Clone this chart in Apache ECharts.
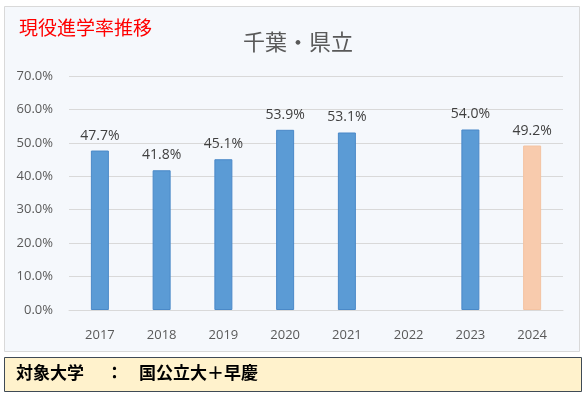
<!DOCTYPE html>
<html>
<head>
<meta charset="utf-8">
<script src="https://cdn.jsdelivr.net/npm/echarts@6/dist/echarts.min.js"></script>
<style>
html,body{margin:0;padding:0;background:#ffffff;}
#chart{width:586px;height:396px;}
</style>
</head>
<body>
<div id="chart"></div>
<script>
var years = ['2017','2018','2019','2020','2021','2022','2023','2024'];
var rates = [47.7, 41.8, 45.1, 53.9, 53.1, null, 54.0, 49.2];
var highlightYear = '2024';
var yTicks = [0, 10, 20, 30, 40, 50, 60, 70];
var chartTitle = '千葉・県立';
var cornerTitle = '現役進学率推移';
var footKey = '対象大学';
var footSep = '：';
var footValue = '国公立大＋早慶';

var blue = '#5b9bd5', orange = '#f8cbad';
var barData = rates.map(function (v, i) {
  return {
    value: v,
    itemStyle: years[i] === highlightYear
      ? { color: orange, borderColor: '#f4c3a2', borderWidth: 1 }
      : { color: blue, borderColor: '#4a89c8', borderWidth: 1 }
  };
});

var footFont = 'bold 17px "Noto Sans CJK JP"';
var chart = echarts.init(document.getElementById('chart'), null, { renderer: 'canvas' });
chart.setOption({
  animation: false,
  backgroundColor: '#ffffff',
  graphic: [
    { type: 'rect', z: -10, shape: { x: 4.5, y: 6.5, width: 575, height: 345 },
      style: { fill: '#f5f8fc', stroke: '#d9d9d9', lineWidth: 1 } },
    { type: 'rect', z: -10, shape: { x: 4.5, y: 357.5, width: 577, height: 34 },
      style: { fill: '#fff2cc', stroke: '#3f4a55', lineWidth: 1 } },
    { type: 'text', left: 19, top: 18,
      style: { text: cornerTitle, fill: '#ff0000', font: '19px "Noto Sans CJK JP"' } },
    { type: 'text', left: 16, top: 364,
      style: { text: footKey, fill: '#000000', font: footFont } },
    { type: 'text', left: 106, top: 364,
      style: { text: footSep, fill: '#000000', font: footFont } },
    { type: 'text', left: 139, top: 364,
      style: { text: footValue, fill: '#000000', font: footFont } }
  ],
  title: {
    text: chartTitle, left: 293, top: 26, textAlign: 'center',
    textStyle: { color: '#595959', fontSize: 22, fontWeight: 'normal', fontFamily: '"Noto Sans CJK JP"' }
  },
  grid: { left: 69, right: 23, top: 76, bottom: 86, containLabel: false },
  xAxis: {
    type: 'category', data: years,
    axisLine: { show: true, lineStyle: { color: '#d9d9d9' } },
    axisTick: { show: false },
    axisLabel: { color: '#595959', fontSize: 13, margin: 19, fontFamily: '"Open Sans", sans-serif' }
  },
  yAxis: {
    type: 'value', min: yTicks[0], max: yTicks[yTicks.length - 1], interval: 10,
    axisLine: { show: false }, axisTick: { show: false },
    splitLine: { lineStyle: { color: '#d9d9d9' } },
    axisLabel: { color: '#595959', fontSize: 13, margin: 16, fontFamily: '"Open Sans", sans-serif',
      formatter: function (v) { return v.toFixed(1) + '%'; } }
  },
  series: [{
    type: 'bar', data: barData, barWidth: 18,
    label: { show: true, position: 'top', distance: 8, color: '#404040', fontSize: 14,
      fontFamily: '"Open Sans", sans-serif',
      formatter: function (p) { return p.value == null ? '' : p.value.toFixed(1) + '%'; } }
  }]
});
</script>
</body>
</html>
